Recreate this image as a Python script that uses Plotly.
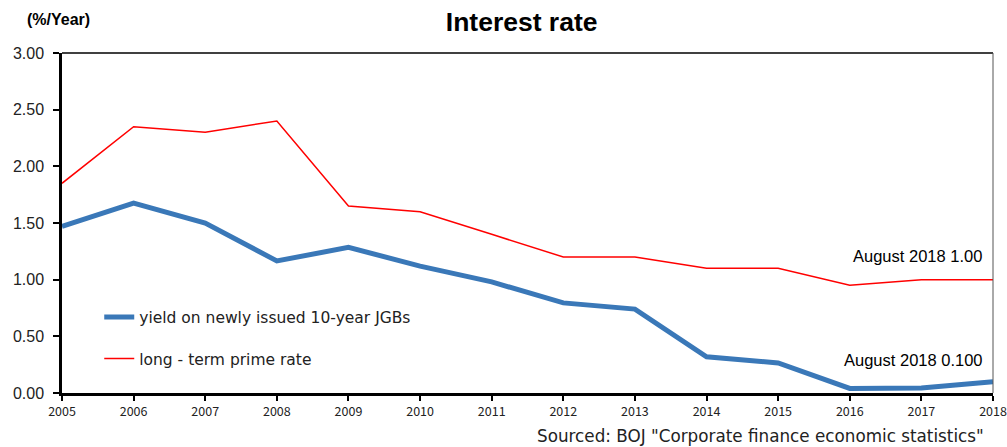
import plotly.graph_objects as go

years = list(range(2005, 2019))
jgb_yield = [1.47, 1.675, 1.50, 1.165, 1.285, 1.12, 0.98, 0.795, 0.74, 0.32, 0.265, 0.04, 0.045, 0.10]
prime_rate = [1.85, 2.35, 2.30, 2.40, 1.65, 1.60, 1.40, 1.20, 1.20, 1.10, 1.10, 0.95, 1.00, 1.00]
y_ticks = [0, 0.5, 1.0, 1.5, 2.0, 2.5, 3.0]
y_tick_labels = ["0.00", "0.50", "1.00", "1.50", "2.00", "2.50", "3.00"]

fig = go.Figure()
fig.add_trace(go.Scatter(x=years, y=prime_rate, mode="lines",
                         name="long - term prime rate", showlegend=True,
                         line=dict(color="#ff0000", width=1.5), legend="legend2"))
fig.add_trace(go.Scatter(x=years, y=jgb_yield, mode="lines",
                         name="yield on newly issued 10-year JGBs", showlegend=True,
                         line=dict(color="#3a78b8", width=5), legend="legend"))

leg_font = dict(family="DejaVu Sans", size=15.5, color="#222222")
fig.update_layout(
    width=1007, height=447,
    showlegend=True,
    margin=dict(l=62, r=14, t=53, b=54),
    paper_bgcolor="white", plot_bgcolor="white",
    title=dict(text="<b>Interest rate</b>", x=0.518, xanchor="center", y=0.952, yanchor="middle",
               font=dict(family="Liberation Sans, Arial", size=26.5, color="black")),
    legend=dict(x=0.04, xanchor="left", y=0.222, yanchor="middle", font=leg_font,
                bgcolor="rgba(0,0,0,0)", itemwidth=30, visible=True),
    legend2=dict(x=0.04, xanchor="left", y=0.10, yanchor="middle", font=leg_font,
                 bgcolor="rgba(0,0,0,0)", itemwidth=30, visible=True),
    xaxis=dict(range=[2005, 2018], tickmode="array", tickvals=years,
               ticktext=[str(y) for y in years], showgrid=False, zeroline=False,
               showline=True, linecolor="black", linewidth=2.5, automargin=False,
               ticks="outside", ticklen=5, tickcolor="black", tickwidth=1.5,
               ticklabeloverflow="allow",
               tickfont=dict(family="Noto Sans CJK JP", size=12.5, color="#222222")),
    yaxis=dict(range=[0, 3], tickmode="array", tickvals=y_ticks, ticktext=y_tick_labels,
               showgrid=False, zeroline=False, automargin=False,
               showline=True, linecolor="black", linewidth=2.5,
               ticks="outside", ticklen=6, tickcolor="black", tickwidth=1.5,
               ticklabelstandoff=6,
               tickfont=dict(family="Liberation Sans, Arial", size=16, color="#222222")),
    shapes=[
        dict(type="line", xref="paper", yref="paper", x0=0, x1=1, y0=1, y1=1,
             line=dict(color="black", width=1.5)),
        dict(type="line", xref="paper", yref="paper", x0=1, x1=1, y0=0, y1=1,
             line=dict(color="#555555", width=1)),
    ],
    annotations=[
        dict(text="<b>(%/Year)</b>", xref="paper", yref="paper", x=-0.04, y=1.098,
             xanchor="left", yanchor="middle", showarrow=False,
             font=dict(family="Liberation Sans, Arial", size=16, color="black")),
        dict(text="August 2018 1.00", xref="paper", yref="y", x=0.9905, y=1.205,
             xanchor="right", yanchor="middle", showarrow=False,
             font=dict(family="Liberation Sans, Arial", size=16.5, color="black")),
        dict(text="August 2018 0.100", xref="paper", yref="y", x=0.9915, y=0.29,
             xanchor="right", yanchor="middle", showarrow=False,
             font=dict(family="Liberation Sans, Arial", size=16.5, color="black")),
        dict(text='Sourced: BOJ "Corporate finance economic statistics"', xref="paper", yref="paper",
             x=0.993, y=-0.125, xanchor="right", yanchor="middle", showarrow=False,
             font=dict(family="DejaVu Sans", size=16.8, color="#222222")),
    ],
)

fig.write_html("out.html", config={"displayModeBar": False},
               post_script="document.body.style.margin='0';document.body.style.overflow='hidden';")
